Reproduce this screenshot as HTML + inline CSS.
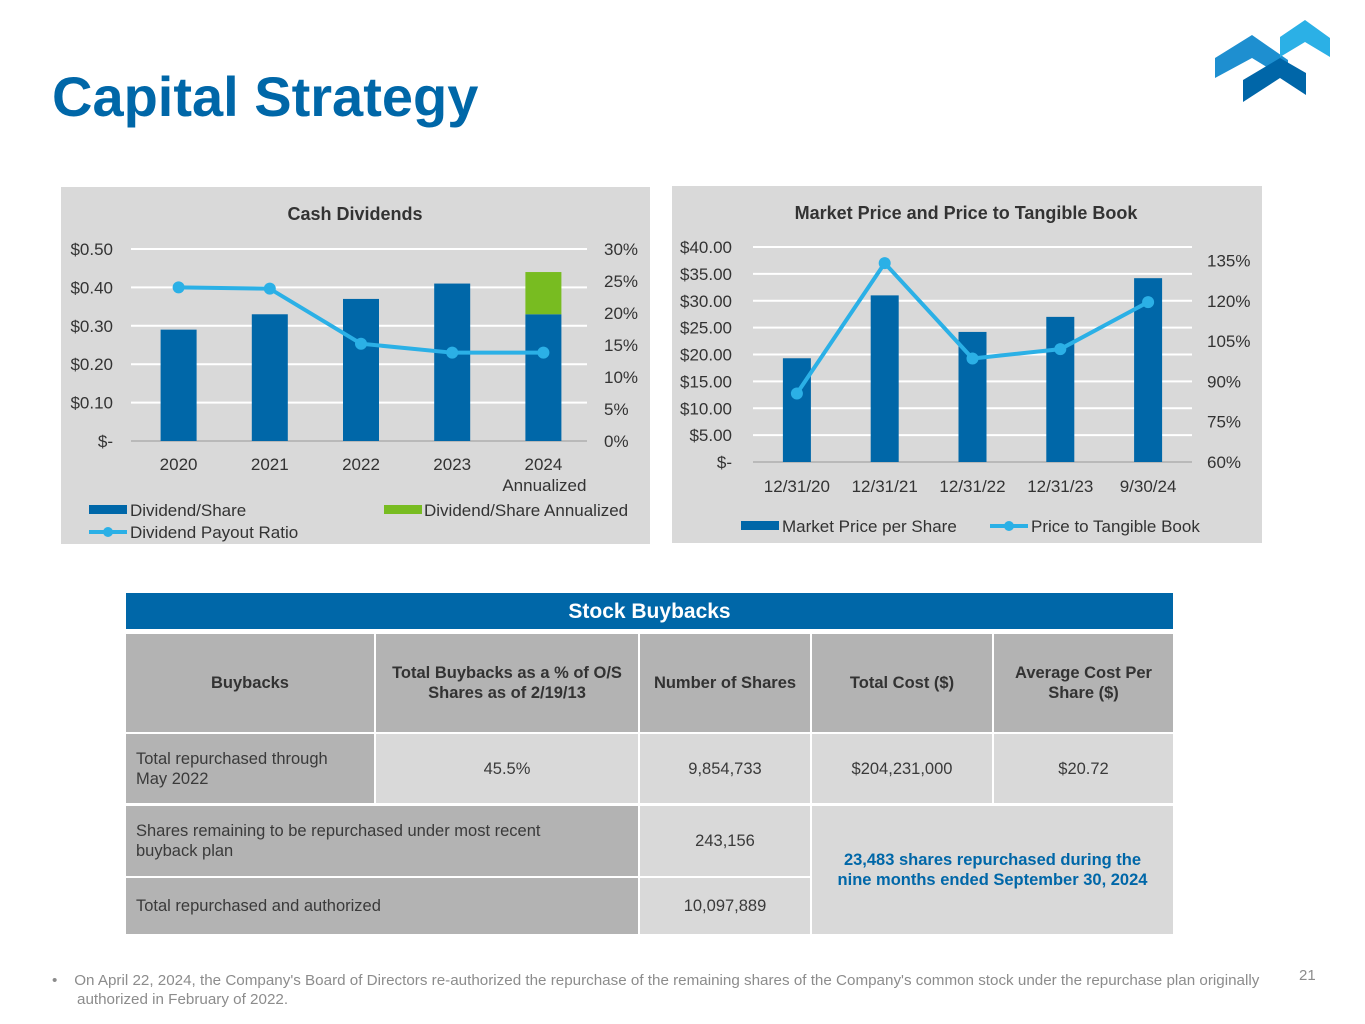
<!DOCTYPE html>
<html><head><meta charset="utf-8"><style>
body{margin:0;width:1365px;height:1024px;background:#fff;font-family:"Liberation Sans",Arial,sans-serif;position:relative;overflow:hidden}
.abs{position:absolute}
.cell{position:absolute;box-sizing:border-box;display:flex;align-items:center;justify-content:center;text-align:center;font-size:16.5px;color:#3a3a3a;line-height:20px}
.hd{background:#b3b3b3;font-weight:bold;color:#333}
.lt{background:#d9d9d9}
.dk{background:#b3b3b3;justify-content:flex-start;text-align:left;padding-left:10px}
</style></head><body>
<div class="abs" style="left:52px;top:64px;font-size:56px;font-weight:bold;color:#0067a8">Capital Strategy</div>
<svg class="abs" style="left:1200px;top:10px" width="140" height="100" viewBox="0 0 140 100">
<polygon points="15,48 52,25 88,50 88,70 52,48 15,68" fill="#1e8fd0"/>
<polygon points="80,27 105,10 130,28 130,47 105,32 80,47" fill="#2bb0e6"/>
<polygon points="43,70 80,48 106,63 106,85 80,68 43,92" fill="#0066a8"/>
</svg>

<svg class="abs" id="c1" style="left:0;top:0" width="1365" height="560"></svg>

<div class="abs" style="left:126px;top:593px;width:1047px;height:36px;background:#0067a8;color:#fff;font-weight:bold;font-size:21px;line-height:38px;text-align:center">Stock Buybacks</div>
<div class="cell hd" style="left:126px;top:634px;width:248px;height:98px">Buybacks</div>
<div class="cell hd" style="left:376px;top:634px;width:262px;height:98px">Total Buybacks as a % of O/S<br>Shares as of 2/19/13</div>
<div class="cell hd" style="left:640px;top:634px;width:170px;height:98px">Number of Shares</div>
<div class="cell hd" style="left:812px;top:634px;width:180px;height:98px">Total Cost ($)</div>
<div class="cell hd" style="left:994px;top:634px;width:179px;height:98px">Average Cost Per<br>Share ($)</div>
<div class="cell dk" style="left:126px;top:734px;width:248px;height:69px">Total repurchased through<br>May 2022</div>
<div class="cell lt" style="left:376px;top:734px;width:262px;height:69px">45.5%</div>
<div class="cell lt" style="left:640px;top:734px;width:170px;height:69px">9,854,733</div>
<div class="cell lt" style="left:812px;top:734px;width:180px;height:69px">$204,231,000</div>
<div class="cell lt" style="left:994px;top:734px;width:179px;height:69px">$20.72</div>
<div class="cell dk" style="left:126px;top:806px;width:512px;height:70px">Shares remaining to be repurchased under most recent<br>buyback plan</div>
<div class="cell lt" style="left:640px;top:806px;width:170px;height:70px">243,156</div>
<div class="cell lt" style="left:812px;top:806px;width:361px;height:128px;color:#0067a8;font-weight:bold">23,483 shares repurchased during the<br>nine months ended September 30, 2024</div>
<div class="cell dk" style="left:126px;top:878px;width:512px;height:56px">Total repurchased and authorized</div>
<div class="cell lt" style="left:640px;top:878px;width:170px;height:56px">10,097,889</div>

<div class="abs" style="left:52px;top:971px;width:1280px;font-size:15.2px;color:#8c8c8c;line-height:19px;white-space:nowrap">•&nbsp;&nbsp;&nbsp;&nbsp;On April 22, 2024, the Company's Board of Directors re-authorized the repurchase of the remaining shares of the Company's common stock under the repurchase plan originally<br><span style="padding-left:25px">authorized in February of 2022.</span></div>
<div class="abs" style="left:1299px;top:967px;font-size:15px;color:#8c8c8c">21</div>

<script>
const divYears=["2020","2021","2022","2023","2024"];
const divShare=[0.29,0.33,0.37,0.41,0.33];
const divAnnualized=[0,0,0,0,0.11];
const payout=[24.0,23.8,15.2,13.8,13.8];
const divTicksL=["$-","$0.10","$0.20","$0.30","$0.40","$0.50"];
const divTicksR=["0%","5%","10%","15%","20%","25%","30%"];
const mpCats=["12/31/20","12/31/21","12/31/22","12/31/23","9/30/24"];
const mpPrice=[19.3,31.0,24.2,27.0,34.2];
const mpPtb=[85.5,134,98.5,102,119.5];
const mpTicksL=["$-","$5.00","$10.00","$15.00","$20.00","$25.00","$30.00","$35.00","$40.00"];
const mpTicksR=["60%","75%","90%","105%","120%","135%"];

const svg=document.getElementById('c1');const NS='http://www.w3.org/2000/svg';
function mk(t,a,txt){const e=document.createElementNS(NS,t);for(const k in a)e.setAttribute(k,a[k]);if(txt!=null)e.textContent=txt;svg.appendChild(e);return e;}
const F='"Liberation Sans",Arial,sans-serif';
function txt(x,y,s,anchor,size,w){return mk('text',{x:x,y:y,'text-anchor':anchor,'font-size':size||17,'font-family':F,fill:'#333','font-weight':w||'normal'},s);}

// chart 1
let e=mk('rect',{x:61,y:187,width:589,height:357,fill:'#d9d9d9'});

txt(355,220,'Cash Dividends','middle',18,'bold');
const L1=131,R1=587,T1=249,B1=441;
const y1=v=>B1-(v/0.5)*(B1-T1);const yr1=v=>B1-(v/30)*(B1-T1);
const bw1=(R1-L1)/divYears.length;const x1=i=>L1+bw1*(i+0.5)+2;
divTicksL.forEach((t,i)=>{const v=i*0.1;const y=y1(v);
 if(i>0){e=mk('line',{x1:L1,x2:R1,y1:y,y2:y,stroke:'#fff','stroke-width':2});}
 txt(113,y+6,t,'end');});
divTicksR.forEach((t,i)=>{txt(604,yr1(i*5)+6,t,'start');});
mk('line',{x1:L1,x2:R1,y1:B1,y2:B1,stroke:'#999'});
divYears.forEach((c,i)=>{
 e=mk('rect',{x:x1(i)-18,y:y1(divShare[i]),width:36,height:B1-y1(divShare[i]),fill:'#0067a8'});
 
 if(divAnnualized[i]>0){e=mk('rect',{x:x1(i)-18,y:y1(divShare[i]+divAnnualized[i]),width:36,height:y1(divShare[i])-y1(divShare[i]+divAnnualized[i]),fill:'#78bc21'});
 }
 txt(x1(i),470,c,'middle');});
txt(x1(4)+1,491,'Annualized','middle');
e=mk('polyline',{points:payout.map((v,i)=>x1(i)+','+yr1(v)).join(' '),fill:'none',stroke:'#2bb0e6','stroke-width':4});

payout.forEach((v,i)=>{e=mk('circle',{cx:x1(i),cy:yr1(v),r:6,fill:'#2bb0e6'});});
e=mk('rect',{x:89,y:505,width:38,height:9,fill:'#0067a8'});
txt(130,516,'Dividend/Share','start');
e=mk('rect',{x:384,y:505,width:38,height:9,fill:'#78bc21'});
txt(424,516,'Dividend/Share Annualized','start');
e=mk('line',{x1:89,x2:127,y1:532,y2:532,stroke:'#2bb0e6','stroke-width':4});
mk('circle',{cx:108,cy:532,r:5,fill:'#2bb0e6'});
txt(130,538,'Dividend Payout Ratio','start');

// chart 2
e=mk('rect',{x:672,y:186,width:590,height:357,fill:'#d9d9d9'});

txt(966,219,'Market Price and Price to Tangible Book','middle',18,'bold');
const L2=753,R2=1192,T2=247,B2=462;
const y2=v=>B2-(v/40)*(B2-T2);const yr2=v=>B2-((v-60)/80)*(B2-T2);
const bw2=(R2-L2)/mpCats.length;const x2=i=>L2+bw2*(i+0.5);
mpTicksL.forEach((t,i)=>{const y=y2(i*5);
 if(i>0){e=mk('line',{x1:L2,x2:R2,y1:y,y2:y,stroke:'#fff','stroke-width':2});}
 txt(732,y+6,t,'end');});
mpTicksR.forEach((t,i)=>{txt(1207,yr2(60+i*15)+6,t,'start');});
mk('line',{x1:L2,x2:R2,y1:B2,y2:B2,stroke:'#999'});
mpCats.forEach((c,i)=>{
 e=mk('rect',{x:x2(i)-14,y:y2(mpPrice[i]),width:28,height:B2-y2(mpPrice[i]),fill:'#0067a8'});
 
 txt(x2(i),492,c,'middle');});
e=mk('polyline',{points:mpPtb.map((v,i)=>x2(i)+','+yr2(v)).join(' '),fill:'none',stroke:'#2bb0e6','stroke-width':4});

mpPtb.forEach((v,i)=>{e=mk('circle',{cx:x2(i),cy:yr2(v),r:6,fill:'#2bb0e6'});});
e=mk('rect',{x:741,y:521,width:38,height:9,fill:'#0067a8'});
txt(782,532,'Market Price per Share','start');
e=mk('line',{x1:990,x2:1028,y1:526,y2:526,stroke:'#2bb0e6','stroke-width':4});
mk('circle',{cx:1009,cy:526,r:5,fill:'#2bb0e6'});
txt(1031,532,'Price to Tangible Book','start');
</script>
</body></html>
